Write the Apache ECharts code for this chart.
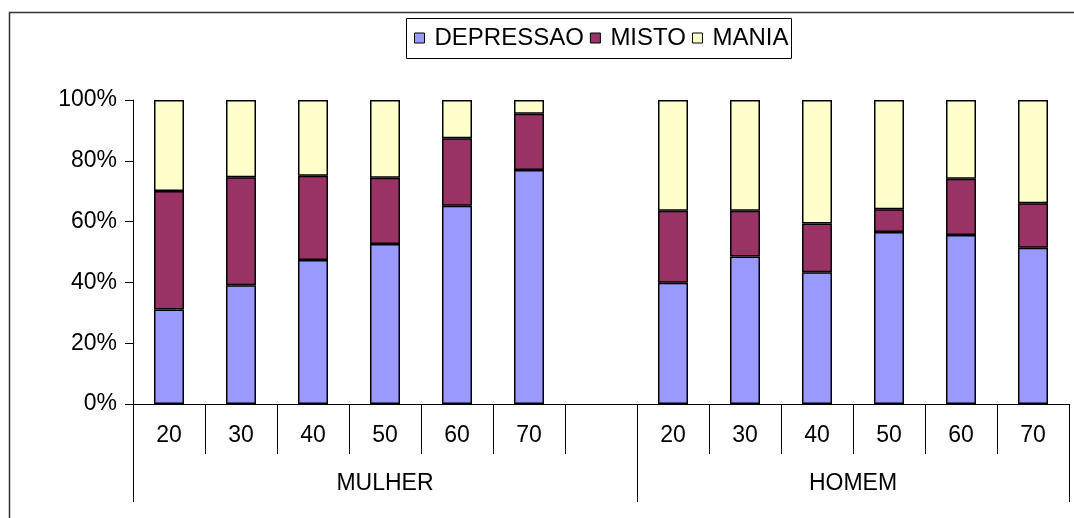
<!DOCTYPE html>
<html>
<head>
<meta charset="utf-8">
<script src="https://cdn.jsdelivr.net/npm/echarts@6/dist/echarts.min.js"></script>
<style>
html,body{margin:0;padding:0;background:#fff;}
#chart{width:1074px;height:518px;}
</style>
</head>
<body>
<div id="chart"></div>
<script>
// ---- data ----
const ages = ['20', '30', '40', '50', '60', '70'];
const groups = ['MULHER', 'HOMEM'];
const seriesNames = ['DEPRESSAO', 'MISTO', 'MANIA'];
const mulherDepressao = [31.1, 39.1, 47.4, 52.6, 65.2, 77.0];
const mulherMisto     = [39.0, 35.5, 27.7, 21.8, 22.2, 18.5];
const mulherMania     = [29.9, 25.4, 24.9, 25.6, 12.6, 4.5];
const homemDepressao  = [39.9, 48.5, 43.3, 56.6, 55.6, 51.4];
const homemMisto      = [23.7, 15.1, 16.1, 7.5, 18.5, 14.6];
const homemMania      = [36.4, 36.4, 40.6, 35.9, 25.9, 34.0];
const yTicks = [0, 20, 40, 60, 80, 100];

// ---- build ----
const categories = [...ages, '', ...ages];
const join = (a, b) => [...a, null, ...b];
const seriesData = [
  join(mulherDepressao, homemDepressao),
  join(mulherMisto, homemMisto),
  join(mulherMania, homemMania)
];
const colors = ['#9999FF', '#993366', '#FFFFCC'];
const groupSizes = [ages.length + 1, ages.length];
const bounds = [0, groupSizes[0], groupSizes[0] + groupSizes[1]];
const groupCenters = [(bounds[0] + bounds[1]) / 2, (bounds[1] + bounds[2]) / 2];

const FONT = '"Liberation Sans", Arial, sans-serif';
const chart = echarts.init(document.getElementById('chart'), null, {renderer: 'canvas'});

chart.setOption({
  animation: false,
  backgroundColor: '#fff',
  color: colors,
  graphic: [
    {type: 'rect', silent: true, z: -1, shape: {x: 9.5, y: 12.5, width: 1100, height: 600},
     style: {fill: 'none', stroke: '#333', lineWidth: 1.5}},
    {type: 'rect', silent: true, z: -1, shape: {x: 406.5, y: 18.5, width: 385, height: 40},
     style: {fill: '#fff', stroke: '#000', lineWidth: 1}}
  ],
  legend: {
    left: 414,
    top: 26,
    padding: 0,
    itemWidth: 10,
    itemHeight: 10,
    itemGap: 6,
    icon: 'rect',
    itemStyle: {borderColor: '#000', borderWidth: 1},
    textStyle: {fontFamily: FONT, fontSize: 24, color: '#000', padding: [0, 0, 0, 5]},
    data: seriesNames
  },
  grid: {left: 133, right: 5, top: 100, bottom: 114, containLabel: false},
  xAxis: [
    {
      type: 'category',
      data: categories,
      boundaryGap: true,
      axisLine: {lineStyle: {color: '#000', width: 1}},
      axisTick: {show: true, interval: 0, length: 50, lineStyle: {color: '#000'}},
      axisLabel: {interval: 0, margin: 20, fontFamily: FONT, fontSize: 23, color: '#000'},
      splitLine: {show: false}
    },
    {
      type: 'value',
      min: bounds[0],
      max: bounds[2],
      position: 'bottom',
      axisLine: {show: false},
      splitLine: {show: false},
      axisTick: {show: true, length: 98, customValues: bounds, lineStyle: {color: '#000'}},
      axisLabel: {
        show: true, margin: 68, fontFamily: FONT, fontSize: 23, color: '#000',
        customValues: groupCenters,
        formatter: v => groups[groupCenters.indexOf(v)] || ''
      }
    }
  ],
  yAxis: {
    type: 'value',
    min: 0,
    max: 100,
    interval: 20,
    axisLine: {show: true, lineStyle: {color: '#000', width: 1}},
    axisTick: {show: true, length: 8, lineStyle: {color: '#000'}},
    axisLabel: {margin: 16, fontFamily: FONT, fontSize: 23, color: '#000', formatter: '{value}%'},
    splitLine: {show: false}
  },
  series: seriesNames.map((name, i) => ({
    name: name,
    type: 'bar',
    stack: 'total',
    xAxisIndex: 0,
    barWidth: 30,
    data: seriesData[i],
    itemStyle: {color: colors[i], borderColor: '#000', borderWidth: 1.5}
  }))
});
</script>
</body>
</html>
